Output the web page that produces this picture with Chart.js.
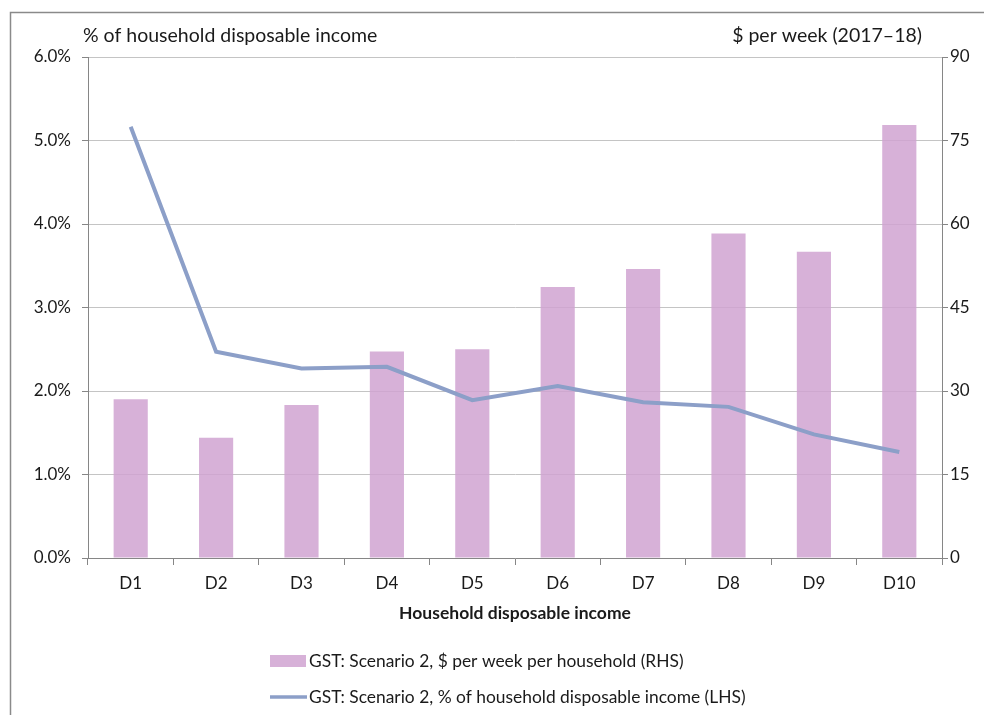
<!DOCTYPE html>
<html>
<head>
<meta charset="utf-8">
<script src="https://cdn.jsdelivr.net/npm/chart.js@4.4.1/dist/chart.umd.min.js"></script>
<style>
  html, body { margin: 0; padding: 0; background: #fff; }
  #wrap { width: 984px; height: 715px; position: relative; }
</style>
</head>
<body>
<div id="wrap"><canvas id="c" width="984" height="715"></canvas></div>
<script>
const categories = ['D1','D2','D3','D4','D5','D6','D7','D8','D9','D10'];
const dollarsPerWeek = [28.5, 21.6, 27.5, 37.1, 37.5, 48.7, 51.9, 58.3, 55.0, 77.8];
const pctOfIncome = [5.165, 2.47, 2.27, 2.29, 1.89, 2.06, 1.865, 1.81, 1.48, 1.27];
const barLabel = 'GST: Scenario 2, $ per week per household (RHS)';
const lineLabel = 'GST: Scenario 2, % of household disposable income (LHS)';
const leftTitle = '% of household disposable income';
const rightTitle = '$ per week (2017–18)';
const xTitle = 'Household disposable income';

const FONT = 'Lato, "Open Sans", sans-serif';
const BAR_COLOR = '#D7B1D8';
const LINE_COLOR = '#8C9FC8';
const TEXT = '#1a1a1a';
const AXIS = '#868686';

const decor = {
  id: 'decor',
  afterDraw(chart) {
    const ctx = chart.ctx;
    const ca = chart.chartArea;
    ctx.save();
    // frame
    ctx.strokeStyle = '#8a8a8a';
    ctx.lineWidth = 1.5;
    ctx.strokeRect(10.5, 12.5, 1000, 1000);
    // axis titles on top
    ctx.fillStyle = TEXT;
    ctx.font = '19.5px ' + FONT;
    ctx.textBaseline = 'middle';
    ctx.textAlign = 'left';
    ctx.fillText(leftTitle, 83, 36);
    ctx.textAlign = 'right';
    ctx.fillText(rightTitle, 922, 36);
    // x title
    ctx.font = 'bold 17.5px ' + FONT;
    ctx.textAlign = 'center';
    ctx.fillText(xTitle, (ca.left + ca.right) / 2, 613);
    // legend
    ctx.font = '17.4px ' + FONT;
    ctx.textAlign = 'left';
    ctx.fillStyle = BAR_COLOR;
    ctx.fillRect(270, 655, 36, 12);
    ctx.fillStyle = TEXT;
    ctx.fillText(barLabel, 309, 661);
    ctx.strokeStyle = LINE_COLOR;
    ctx.lineWidth = 3.5;
    ctx.beginPath();
    ctx.moveTo(270, 697);
    ctx.lineTo(307, 697);
    ctx.stroke();
    ctx.fillText(lineLabel, 309, 697);
    ctx.restore();
  }
};

new Chart(document.getElementById('c'), {
  data: {
    labels: categories,
    datasets: [
      {
        type: 'line',
        label: lineLabel,
        data: pctOfIncome,
        yAxisID: 'y',
        borderColor: LINE_COLOR,
        borderWidth: 4,
        pointRadius: 0,
        tension: 0,
        order: 0
      },
      {
        type: 'bar',
        label: barLabel,
        data: dollarsPerWeek,
        yAxisID: 'y1',
        backgroundColor: 'rgba(208,163,209,0.85)',
        borderWidth: 0,
        barPercentage: 0.4,
        categoryPercentage: 1.0,
        order: 1
      }
    ]
  },
  options: {
    responsive: false,
    animation: false,
    layout: { padding: { top: 57, left: 0, right: 0, bottom: 0 } },
    plugins: { legend: { display: false }, tooltip: { enabled: false } },
    scales: {
      x: {
        offset: true,
        grid: { display: true, drawOnChartArea: false, offset: true, tickLength: 7, color: AXIS },
        border: { color: AXIS, width: 1 },
        ticks: { color: TEXT, font: { family: FONT, size: 17 }, padding: 8 },
        afterFit(s) { s.height = 157; }
      },
      y: {
        position: 'left',
        min: 0, max: 6,
        ticks: { stepSize: 1, color: TEXT, font: { family: FONT, size: 17 }, padding: 11,
          callback: v => v.toFixed(1) + '%' },
        grid: { color: '#C4C4C4', tickColor: AXIS, tickLength: 6 },
        border: { color: AXIS, width: 1 },
        afterFit(s) { s.width = 88; }
      },
      y1: {
        position: 'right',
        min: 0, max: 90,
        ticks: { stepSize: 15, color: TEXT, font: { family: FONT, size: 17 }, padding: 2 },
        grid: { drawOnChartArea: false, color: AXIS, tickLength: 6 },
        border: { color: AXIS, width: 1 },
        afterFit(s) { s.width = 42; }
      }
    }
  },
  plugins: [decor]
});
</script>
</body>
</html>
